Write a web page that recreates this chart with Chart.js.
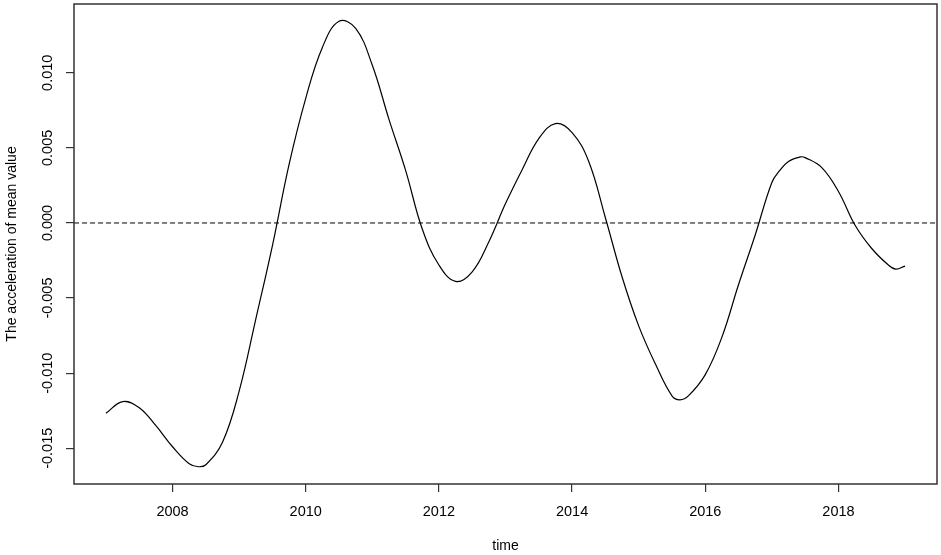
<!DOCTYPE html>
<html>
<head>
<meta charset="utf-8">
<script src="https://cdn.jsdelivr.net/npm/chart.js@4.4.1/dist/chart.umd.min.js"></script>
<style>
  html, body { margin: 0; padding: 0; background: #fff; overflow: hidden; }
  canvas { display: block; }
</style>
</head>
<body>
<canvas id="accelChart" width="941" height="555"></canvas>
<script>
// values
const years = [
    2007.0, 2007.25, 2007.5, 2007.75, 2008.0, 2008.25, 2008.39, 2008.5, 2008.75,
    2009.0, 2009.25, 2009.5, 2009.75, 2010.0, 2010.25, 2010.5, 2010.75,
    2011.0, 2011.25, 2011.5, 2011.75, 2012.0, 2012.25, 2012.5, 2012.75,
    2013.0, 2013.25, 2013.5, 2013.75, 2014.0, 2014.25, 2014.5, 2014.75,
    2015.0, 2015.25, 2015.5, 2015.62, 2015.75, 2016.0, 2016.25, 2016.5, 2016.75,
    2017.0, 2017.12, 2017.25, 2017.43, 2017.5, 2017.75, 2018.0, 2018.25, 2018.5, 2018.75,
    2018.86, 2019.0
];
const acceleration = [
    -0.01267, -0.01189, -0.0123, -0.0135, -0.0149, -0.01603, -0.01623, -0.0161, -0.0146,
    -0.0112, -0.0064, -0.0015, 0.0039, 0.0083, 0.01169, 0.01343, 0.01295,
    0.0105, 0.0069, 0.0035, -0.0004, -0.0028, -0.00389, -0.00325, -0.00125,
    0.00129, 0.00355, 0.00562, 0.00662, 0.00602, 0.00409, 0.00035, -0.00358,
    -0.00685, -0.00938, -0.01151, -0.01178, -0.0115, -0.0101, -0.0076, -0.0041, -0.0008,
    0.0027, 0.0035, 0.0041, 0.0044, 0.00435, 0.00369, 0.0021, -0.00015, -0.0017, -0.0028,
    -0.00307, -0.00287
];
const xTicks = [2008, 2010, 2012, 2014, 2016, 2018];
const yTicks = [-0.015, -0.010, -0.005, 0.000, 0.005, 0.010];
const refLine = 0;

const FONT = "'Liberation Sans', Arial, sans-serif";
const AXIS_COLOR = "#333";

// box, dashed zero line and rotated y tick labels, like base R
const rStylePlugin = {
    id: "rStyle",
    beforeDatasetsDraw(chart) {
        const ctx = chart.ctx;
        const area = chart.chartArea;
        const y0 = chart.scales.y.getPixelForValue(refLine);
        ctx.save();
        ctx.strokeStyle = "#000";
        ctx.lineWidth = 1;
        ctx.setLineDash([5, 3]);
        ctx.beginPath();
        ctx.moveTo(area.left, y0);
        ctx.lineTo(area.right, y0);
        ctx.stroke();
        ctx.restore();
    },
    afterDraw(chart) {
        const ctx = chart.ctx;
        const area = chart.chartArea;
        const yScale = chart.scales.y;
        ctx.save();
        ctx.strokeStyle = AXIS_COLOR;
        ctx.lineWidth = 1.5;
        ctx.strokeRect(area.left, area.top, area.right - area.left, area.bottom - area.top);

        ctx.fillStyle = "#000";
        ctx.font = "14.5px " + FONT;
        ctx.textAlign = "center";
        ctx.textBaseline = "middle";
        yTicks.forEach(v => {
            const py = yScale.getPixelForValue(v);
            ctx.save();
            ctx.translate(48, py);
            ctx.rotate(-Math.PI / 2);
            ctx.fillText(v.toFixed(3).replace("-0.000", "0.000"), 0, 0);
            ctx.restore();
        });
        ctx.restore();
    }
};

const ctx = document.getElementById("accelChart").getContext("2d");

new Chart(ctx, {
    type: "line",
    data: {
        datasets: [{
            data: years.map((yr, i) => ({ x: yr, y: acceleration[i] })),
            borderColor: "#000",
            borderWidth: 1.2,
            pointRadius: 0,
            fill: false,
            tension: 0.4
        }]
    },
    options: {
        responsive: false,
        animation: false,
        events: [],
        layout: { padding: { top: 4, right: 4, left: 0, bottom: 0 } },
        plugins: {
            legend: { display: false },
            tooltip: { enabled: false }
        },
        scales: {
            x: {
                type: "linear",
                min: 2006.52,
                max: 2019.48,
                afterBuildTicks: scale => { scale.ticks = xTicks.map(v => ({ value: v })); },
                afterFit: scale => { scale.height = 71; },
                border: { display: false },
                grid: { drawOnChartArea: false, drawTicks: true, tickLength: 8, color: AXIS_COLOR, lineWidth: 1.2 },
                ticks: {
                    color: "#000",
                    padding: 11,
                    maxRotation: 0,
                    font: { family: FONT, size: 14.5 },
                    callback: v => String(v)
                },
                title: {
                    display: true,
                    text: "time",
                    color: "#000",
                    font: { family: FONT, size: 14 },
                    padding: { top: 0, bottom: 0 }
                }
            },
            y: {
                type: "linear",
                min: -0.01738,
                max: 0.01458,
                afterBuildTicks: scale => { scale.ticks = yTicks.map(v => ({ value: v })); },
                afterFit: scale => { scale.width = 74; },
                border: { display: false },
                grid: { drawOnChartArea: false, drawTicks: true, tickLength: 8, color: AXIS_COLOR, lineWidth: 1.2 },
                ticks: { display: false },
                title: {
                    display: true,
                    text: "The acceleration of mean value",
                    color: "#000",
                    font: { family: FONT, size: 14 },
                    padding: { top: 4, bottom: 0 }
                }
            }
        }
    },
    plugins: [rStylePlugin]
});
</script>
</body>
</html>
